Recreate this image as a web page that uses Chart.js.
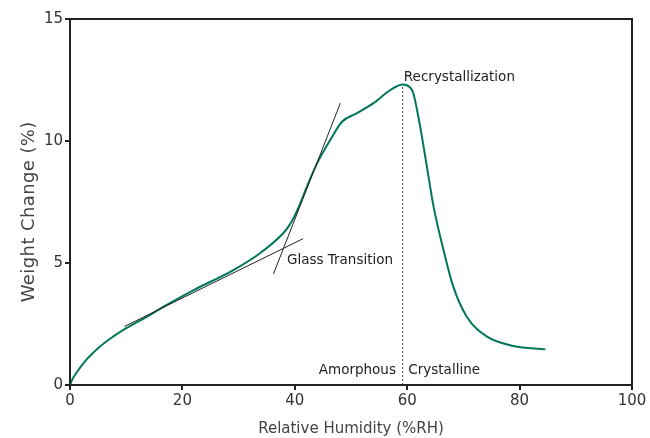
<!DOCTYPE html>
<html>
<head>
<meta charset="utf-8">
<script src="https://cdn.jsdelivr.net/npm/chart.js@4/dist/chart.umd.min.js"></script>
<style>
  html, body { margin: 0; padding: 0; background: #fff; }
  #wrap { width: 650px; height: 438px; }
</style>
</head>
<body>
<div id="wrap"><canvas id="dvsChart"></canvas></div>
<script>
// sorption curve
const humidity = [0, 0.4, 1, 2.85, 5.2, 7.6, 9.8, 13.4, 16.9, 22, 29, 33.8, 37.9, 38.9, 39.8, 40.9, 42.1, 43.9, 46.3, 48.4, 51, 54, 57, 59.2, 60.5, 61.1, 62.3, 63.5, 64.7, 66.5, 68.2, 70.6, 74.2, 78.9, 84.6];
const weightChange = [0, 0.22, 0.45, 1.02, 1.55, 1.97, 2.3, 2.76, 3.24, 3.89, 4.7, 5.4, 6.21, 6.5, 6.85, 7.4, 8.1, 9.05, 10.04, 10.79, 11.13, 11.55, 12.09, 12.32, 12.2, 11.95, 10.6, 8.95, 7.3, 5.5, 4.03, 2.8, 1.98, 1.6, 1.46];

// tangent lines used to mark the glass transition
const tangentLowX = [9.7, 41.5];
const tangentLowY = [2.4, 6.0];
const tangentHighX = [36.2, 48.1];
const tangentHighY = [4.55, 11.55];

// dotted line between amorphous / crystalline
const crossoverX = [59.2, 59.2];
const crossoverY = [0, 12.3];

const xTicks = [0, 20, 40, 60, 80, 100];
const yTicks = [0, 5, 10, 15];

const toPoints = (xs, ys) => xs.map((x, i) => ({ x: x, y: ys[i] }));

const fontFamily = '"DejaVu Sans", sans-serif';

const notes = {
  id: 'notes',
  afterDatasetsDraw(chart) {
    const { ctx, chartArea, scales: { x, y } } = chart;
    ctx.save();
    // frame round the plot
    ctx.strokeStyle = '#222';
    ctx.lineWidth = 2;
    ctx.strokeRect(chartArea.left, chartArea.top, chartArea.right - chartArea.left, chartArea.bottom - chartArea.top);

    ctx.fillStyle = '#222';
    ctx.font = '13.5px ' + fontFamily;
    ctx.textBaseline = 'middle';
    ctx.textAlign = 'left';
    ctx.fillText('Recrystallization', x.getPixelForValue(59.4), y.getPixelForValue(12.6));
    ctx.fillText('Glass Transition', x.getPixelForValue(38.6), y.getPixelForValue(5.1));
    ctx.fillText('Crystalline', x.getPixelForValue(60.2), y.getPixelForValue(0.6));
    ctx.textAlign = 'right';
    ctx.fillText('Amorphous', x.getPixelForValue(58.0), y.getPixelForValue(0.6));

    // y axis title, sits a little below the middle in the original
    ctx.translate(29, y.getPixelForValue(7.1));
    ctx.rotate(-Math.PI / 2);
    ctx.fillStyle = '#444';
    ctx.font = '18px ' + fontFamily;
    ctx.letterSpacing = '0.4px';
    ctx.textAlign = 'center';
    ctx.fillText('Weight Change (%)', 0, 0);
    ctx.restore();
  }
};

const thin = { borderColor: '#222', borderWidth: 1, pointRadius: 0, showLine: true, fill: false };

new Chart(document.getElementById('dvsChart'), {
  type: 'scatter',
  data: {
    datasets: [
      Object.assign({ data: toPoints(tangentLowX, tangentLowY) }, thin),
      Object.assign({ data: toPoints(tangentHighX, tangentHighY) }, thin),
      Object.assign({ data: toPoints(crossoverX, crossoverY), borderDash: [2, 2] }, thin, { borderColor: '#444' }),
      {
        label: 'Weight Change',
        data: toPoints(humidity, weightChange),
        showLine: true,
        borderColor: '#00775a',
        borderWidth: 2,
        pointRadius: 0,
        cubicInterpolationMode: 'monotone',
        fill: false
      }
    ]
  },
  options: {
    responsive: true,
    maintainAspectRatio: false,
    animation: false,
    layout: { padding: { top: 19, right: 18, left: 0, bottom: 0 } },
    plugins: {
      legend: { display: false },
      tooltip: { enabled: false }
    },
    scales: {
      x: {
        type: 'linear',
        min: 0,
        max: 100,
        afterBuildTicks: (axis) => { axis.ticks = xTicks.map(v => ({ value: v })); },
        afterFit: (axis) => { axis.height = 53; },
        grid: { display: true, drawOnChartArea: false, drawTicks: true, tickLength: 5, color: '#222', lineWidth: 2 },
        border: { display: true, color: '#222', width: 2 },
        ticks: { color: '#333', font: { family: fontFamily, size: 15 }, padding: 2, maxRotation: 0 },
        title: { display: true, text: 'Relative Humidity (%RH)', color: '#444', font: { family: fontFamily, size: 15 }, padding: { top: 2, bottom: 0 } }
      },
      y: {
        type: 'linear',
        min: 0,
        max: 15,
        afterBuildTicks: (axis) => { axis.ticks = yTicks.map(v => ({ value: v })); },
        afterFit: (axis) => { axis.width = 70; },
        grid: { display: true, drawOnChartArea: false, drawTicks: true, tickLength: 5, color: '#222', lineWidth: 2 },
        border: { display: true, color: '#222', width: 2 },
        ticks: { color: '#333', font: { family: fontFamily, size: 15 }, padding: 2 },
        title: { display: false }
      }
    }
  },
  plugins: [notes]
});
</script>
</body>
</html>
